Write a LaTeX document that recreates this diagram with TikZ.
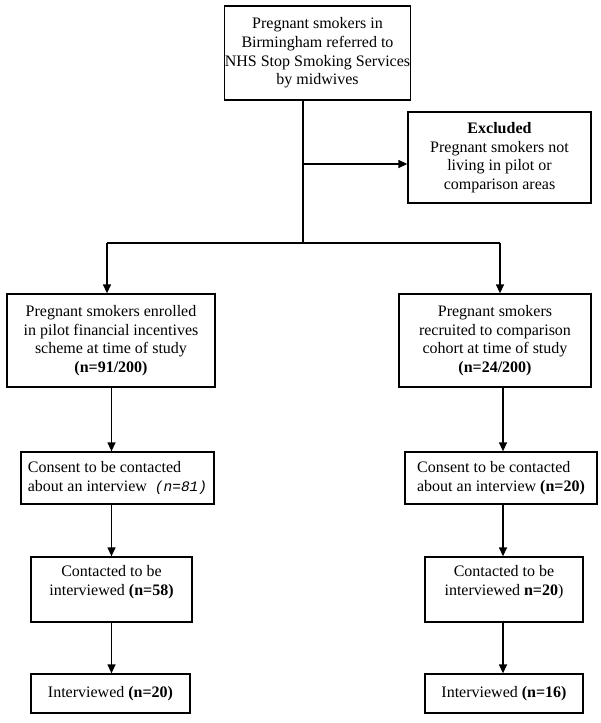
\documentclass[tikz,border=0pt]{standalone}
\usepackage{fontspec}
\setmainfont{Liberation Serif}
\setmonofont{Liberation Mono}
\usetikzlibrary{arrows.meta}
\begin{document}
\begin{tikzpicture}[x=1pt,y=-1pt,
  box/.style={draw=black,line width=1.3pt,rectangle,inner sep=0pt,align=center,
    font=\fontsize{16}{18.7}\selectfont},
  lbox/.style={box,align=left},
  conn/.style={line width=1.3pt,-{Triangle[length=9pt,width=8pt]}},
  plain/.style={line width=1.3pt}]
\fill[white] (0,0) rectangle (600,723);
\useasboundingbox (0,0) rectangle (600,723);

\node[box,minimum width=181pt,minimum height=94pt] (top) at (317.5,53)
  {Pregnant smokers in\\Birmingham referred to\\NHS Stop Smoking Services\\by midwives};
\node[box,minimum width=183pt,minimum height=91pt] (excl) at (499.5,157.5)
  {\textbf{Excluded}\\Pregnant smokers not\\living in pilot or\\comparison areas};

\node[box,minimum width=208pt,minimum height=93pt] (enrol) at (111,340.5)
  {Pregnant smokers enrolled\\in pilot financial incentives\\scheme at time of study\\\textbf{(n=91/200)}};
\node[box,minimum width=192pt,minimum height=93pt] (recr) at (495,340.5)
  {Pregnant smokers\\recruited to comparison\\cohort at time of study\\\textbf{(n=24/200)}};

\node[lbox,minimum width=193pt,minimum height=52pt] (consL) at (117.5,478)
  {Consent to be contacted\\about an interview \ {\fontsize{14.5}{19}\selectfont\ttfamily\itshape(n=81)}};
\node[lbox,minimum width=192pt,minimum height=52pt] (consR) at (501,478)
  {Consent to be contacted\\about an interview \textbf{(n=20)}};

\node[box,minimum width=161pt,minimum height=65pt] (contL) at (111.5,589.5)
  {Contacted to be\\interviewed \textbf{(n=58)}\\\mbox{}};
\node[box,minimum width=158pt,minimum height=65pt] (contR) at (504,589.5)
  {Contacted to be\\interviewed \textbf{n=20})\\\mbox{}};

\node[box,minimum width=159pt,minimum height=39pt] (intL) at (110.5,693.5)
  {Interviewed \textbf{(n=20)}};
\node[box,minimum width=158pt,minimum height=39pt] (intR) at (504,693.5)
  {Interviewed \textbf{(n=16)}};

\coordinate (vtop) at (303,100);
\coordinate (split) at (303,243);
\coordinate (exj) at (303,164);
\coordinate (hL) at (107,243);
\coordinate (hR) at (500,243);
\coordinate (cL) at (111.5,400);
\coordinate (cR) at (503,400);

\draw[plain] (vtop) -- (split);
\draw[conn] (exj) -- (exj -| excl.west);
\draw[plain] (hL) -- (hR);
\draw[conn] (hL) -- (hL |- enrol.north);
\draw[conn] (hR) -- (hR |- recr.north);

\draw[conn] (enrol.south -| cL) -- (consL.north -| cL);
\draw[conn] (consL.south -| cL) -- (contL.north -| cL);
\draw[conn] (contL.south -| cL) -- (intL.north -| cL);

\draw[conn] (recr.south -| cR) -- (consR.north -| cR);
\draw[conn] (consR.south -| cR) -- (contR.north -| cR);
\draw[conn] (contR.south -| cR) -- (intR.north -| cR);
\end{tikzpicture}
\end{document}
